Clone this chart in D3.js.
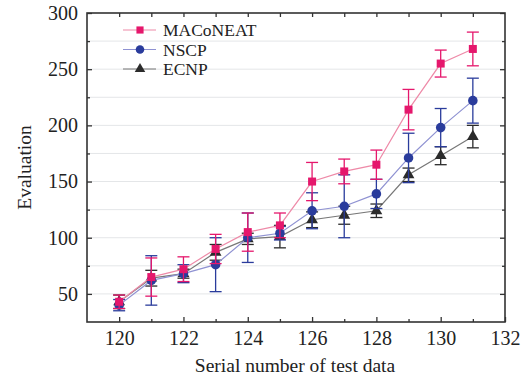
<!DOCTYPE html>
<html><head><meta charset="utf-8">
<script src="https://cdn.jsdelivr.net/npm/d3@7"></script>
<style>body{margin:0;background:#fff}svg{display:block}</style>
</head><body>
<script>
const xs = [120,121,122,123,124,125,126,127,128,129,130,131];
const seriesNames = ["MACoNEAT","NSCP","ECNP"];
const maconeat = [43,65,72,90,105,111,150,159,165,214,255,268];
const maconeatErr = [6,17,11,13,17,11,17,11,13,18,12,15];
const nscp = [40,62,68,76,100,104,124,128,139,171,198,222];
const nscpErr = [5,22,8,24,22,6,16,28,13,22,17,20];
const ecnp = [43,64,68,87,99,101,116,120,124,156,173,190];
const ecnpErr = [6,7,4,7,5,10,7,8,6,6,8,10];
const xTicks = [120,122,124,126,128,130,132];
const yTicks = [50,100,150,200,250,300];

const W=527,H=380, L=87, R=505, T=13, B=322;
const svg=d3.select("body").append("svg").attr("width",W).attr("height",H);
const x=d3.scaleLinear().domain([119,132]).range([L,R]);
const y=d3.scaleLinear().domain([25,300]).range([B,T]);
const font="'Liberation Serif','Times New Roman',serif";

// grid
svg.append("g").selectAll("line").data(d3.range(50,300,25)).join("line")
 .attr("x1",L).attr("x2",R).attr("y1",d=>y(d)).attr("y2",d=>y(d))
 .attr("stroke","#e4e6e8").attr("stroke-width",1);

// axes
const ax=svg.append("g").attr("font-family",font);
ax.append("g").attr("transform",`translate(0,${B})`)
 .call(d3.axisBottom(x).tickValues(xTicks).tickSize(-5).tickPadding(9).tickFormat(d3.format("d")));
ax.append("g").attr("transform",`translate(0,${B})`)
 .call(d3.axisBottom(x).tickValues(d3.range(121,132,2)).tickSize(-3).tickFormat(""));
ax.append("g").attr("transform",`translate(0,${T})`)
 .call(d3.axisTop(x).tickValues(d3.range(120,132,1)).tickSize(-4).tickFormat(""));
ax.append("g").attr("transform",`translate(${L},0)`)
 .call(d3.axisLeft(y).tickValues(yTicks).tickSize(-5).tickPadding(9).tickFormat(d3.format("d")));
ax.append("g").attr("transform",`translate(${L},0)`)
 .call(d3.axisLeft(y).tickValues(d3.range(75,300,50)).tickSize(-3).tickFormat(""));
ax.append("g").attr("transform",`translate(${R},0)`)
 .call(d3.axisRight(y).tickValues(yTicks).tickSize(-5).tickFormat(""));
ax.append("g").attr("transform",`translate(${R},0)`)
 .call(d3.axisRight(y).tickValues(d3.range(75,300,50)).tickSize(-3).tickFormat(""));
ax.selectAll(".domain").remove();
ax.selectAll(".tick line").attr("stroke","#333").attr("stroke-width",1.3);
ax.selectAll(".tick text").attr("font-size",20).attr("fill","#222").attr("font-family",font);
svg.append("rect").attr("x",L).attr("y",T).attr("width",R-L).attr("height",B-T)
 .attr("fill","none").attr("stroke","#333").attr("stroke-width",1.6);

// titles
svg.append("text").attr("x",295).attr("y",372).attr("text-anchor","middle")
 .attr("font-family",font).attr("font-size",19.5).attr("fill","#222").text("Serial number of test data");
svg.append("text").attr("transform",`translate(31,${(T+B)/2}) rotate(-90)`).attr("text-anchor","middle")
 .attr("font-family",font).attr("font-size",19.5).attr("fill","#222").text("Evaluation");

const series=[
 {name:seriesNames[0],v:maconeat,e:maconeatErr,c:"#e5176c",lc:"#ee8aa8",m:"square"},
 {name:seriesNames[1],v:nscp,e:nscpErr,c:"#2a3c9c",lc:"#8f92d2",m:"circle"},
 {name:seriesNames[2],v:ecnp,e:ecnpErr,c:"#2b2b2b",lc:"#777",m:"triangle"}
];
const sym={square:d3.symbolSquare,circle:d3.symbolCircle,triangle:d3.symbolTriangle};
const sz={square:64,circle:72,triangle:60};
const line=d3.line().x((d,i)=>x(xs[i])).y(d=>y(d));

series.slice().reverse().forEach(s=>{
 const g=svg.append("g");
 g.append("path").attr("d",line(s.v)).attr("fill","none").attr("stroke",s.lc).attr("stroke-width",1.2);
 s.v.forEach((v,i)=>{
  const cx=x(xs[i]), e=s.e[i];
  g.append("line").attr("x1",cx).attr("x2",cx).attr("y1",y(v+e)).attr("y2",y(v-e)).attr("stroke",s.c).attr("stroke-width",1.3);
  [v+e,v-e].forEach(t=>g.append("line").attr("x1",cx-6).attr("x2",cx+6).attr("y1",y(t)).attr("y2",y(t)).attr("stroke",s.c).attr("stroke-width",1.3));
 });
 g.selectAll("path.m").data(s.v).join("path").attr("class","m")
  .attr("transform",(d,i)=>`translate(${x(xs[i])},${y(d)})`)
  .attr("d",d3.symbol().type(sym[s.m]).size(sz[s.m])).attr("fill",s.c);
});

// legend
const lg=svg.append("g");
series.forEach((s,i)=>{
 const yy=30+i*19.5;
 lg.append("line").attr("x1",123).attr("x2",156).attr("y1",yy).attr("y2",yy).attr("stroke",s.lc).attr("stroke-width",1.2);
 lg.append("path").attr("transform",`translate(140,${yy})`).attr("d",d3.symbol().type(sym[s.m]).size(sz[s.m]*0.8)).attr("fill",s.c);
 lg.append("text").attr("x",163).attr("y",yy+6).attr("font-family",font).attr("font-size",17.5).attr("fill","#222").text(s.name);
});
</script>
</body></html>
